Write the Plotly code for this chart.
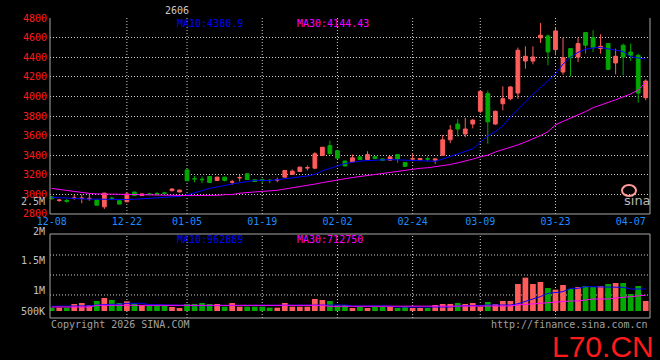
import plotly.graph_objects as go

dates = ["12-08","12-09","12-10","12-11","12-12","12-15","12-16","12-17","12-18","12-19",
         "12-22","12-23","12-24","12-25","12-26","12-29","12-30","12-31",
         "01-05","01-06","01-07","01-08","01-09","01-12","01-13","01-14","01-15","01-16",
         "01-19","01-20","01-21","01-22","01-23","01-26","01-27","01-28","01-29","01-30",
         "02-02","02-03","02-04","02-05","02-06","02-09","02-10","02-11","02-12","02-13",
         "02-24","02-25","02-26","02-27",
         "03-02","03-03","03-04","03-05","03-06","03-09","03-10","03-11","03-12","03-13",
         "03-16","03-17","03-18","03-19","03-20","03-23","03-24","03-25","03-26","03-27",
         "03-30","03-31","04-01","04-02","04-03","04-07","04-08","04-09"]

open_ = [2975,2938,2938,2960,2958,2955,2942,2873,2962,2935,
         2925,3024,2988,3005,3009,3015,3038,3025,3250,3162,
         3155,3183,3142,3176,3124,3168,3210,3149,3150,3145,
         3146,3176,3203,3234,3269,3268,3397,3498,3446,3340,
         3332,3383,3356,3385,3362,3350,3406,3326,3360,3352,
         3364,3349,3399,3557,3718,3617,3718,3848,4030,3718,
         3925,3976,4034,4361,4361,4597,4617,4477,4249,4488,
         4402,4651,4600,4488,4539,4341,4522,4453,4419,3987]
high = [2985,2952,2955,2995,3000,2995,2945,3015,2975,2940,
        3017,3026,3010,3016,3024,3027,3063,3047,3265,3188,
        3183,3186,3180,3180,3149,3200,3215,3156,3160,3157,
        3170,3248,3254,3282,3295,3431,3485,3549,3450,3345,
        3406,3388,3440,3390,3366,3390,3410,3330,3416,3372,
        3389,3365,3607,3708,3768,3781,3768,4059,4059,3855,
        4103,4106,4498,4511,4511,4750,4631,4705,4600,4492,
        4600,4655,4675,4634,4545,4488,4539,4539,4436,4174]
low = [2950,2925,2915,2945,2910,2935,2885,2850,2945,2898,
       2920,2984,2984,2990,2990,3000,3030,3020,3135,3123,
       3115,3118,3138,3132,3098,3132,3148,3128,3115,3115,
       3125,3172,3200,3230,3244,3258,3393,3410,3365,3285,
       3328,3352,3352,3360,3340,3345,3322,3280,3339,3348,
       3339,3312,3395,3523,3590,3584,3674,3831,3517,3710,
       3857,3960,3976,4283,4327,4545,4317,4419,4222,4205,
       4351,4436,4453,4436,4270,4225,4215,4361,3936,3960]
close = [2955,2942,2930,2963,2962,2959,2890,3013,2958,2901,
         3005,2988,3005,3001,3005,3011,3055,3044,3140,3158,
         3150,3122,3176,3142,3128,3172,3152,3132,3146,3141,
         3150,3244,3237,3278,3273,3414,3481,3414,3370,3290,
         3373,3356,3406,3365,3348,3383,3362,3286,3364,3366,
         3360,3362,3557,3657,3667,3667,3758,4049,3740,3848,
         3976,4096,4471,4409,4402,4624,4453,4668,4396,4396,
         4539,4522,4498,4511,4276,4409,4402,4419,4034,4157]

volume = [139000,139000,139000,292000,333000,250000,417000,542000,458000,333000,
          403000,306000,250000,222000,222000,222000,167000,125000,292000,292000,
          333000,292000,292000,181000,333000,181000,181000,181000,181000,139000,
          139000,333000,181000,181000,181000,500000,458000,417000,250000,250000,
          125000,181000,125000,181000,181000,181000,125000,181000,125000,125000,
          125000,250000,292000,292000,333000,292000,333000,181000,375000,292000,
          417000,417000,1125000,1389000,1125000,1208000,958000,889000,1083000,917000,
          1000000,1042000,1000000,1042000,1125000,1167000,1167000,708000,1042000,417000]

ma10 = [2970,2968,2962,2958,2955,2952,2950,2948,2946,2946,
        2948,2950,2955,2960,2962,2965,2970,2980,2995,3020,
        3038,3062,3076,3096,3106,3120,3130,3144,3143,3141,
        3150,3158,3164,3178,3188,3205,3240,3262,3290,3315,
        3330,3340,3345,3350,3353,3355,3352,3350,3348,3345,
        3340,3338,3360,3385,3415,3440,3466,3530,3600,3640,
        3700,3790,3870,3950,4020,4090,4160,4230,4330,4400,
        4450,4481,4495,4500,4485,4470,4458,4405,4396,4381]
ma30 = [3061,3051,3041,3027,3020,3010,3005,3003,3001,3000,
        3000,2998,2996,2994,2993,2992,2990,2990,2988,2988,
        2988,2988,2990,2997,2999,3012,3022,3025,3030,3033,
        3042,3055,3066,3079,3090,3105,3120,3135,3147,3160,
        3172,3183,3193,3203,3215,3226,3240,3250,3258,3266,
        3272,3282,3295,3305,3322,3339,3360,3383,3400,3433,
        3455,3478,3505,3535,3565,3600,3640,3710,3745,3777,
        3810,3845,3885,3910,3935,3965,3995,4025,4065,4144]

vol_ma10 = [194000,194000,200000,205000,210000,215000,250000,278000,278000,278000,
            319000,319000,319000,264000,264000,264000,264000,264000,236000,222000,
            222000,222000,222000,222000,222000,222000,222000,222000,222000,222000,
            222000,222000,222000,222000,222000,222000,222000,250000,250000,250000,
            208000,208000,208000,208000,208000,208000,167000,167000,167000,167000,
            167000,167000,167000,167000,208000,208000,208000,230000,250000,250000,
            250000,250000,300000,400000,500000,600000,736000,770000,806000,944000,
            944000,1014000,1014000,1014000,1014000,986000,986000,917000,917000,917000]
vol_ma30 = [167000,167000,167000,167000,167000,167000,236000,236000,236000,236000,
            236000,236000,236000,236000,236000,236000,236000,236000,236000,236000,
            236000,236000,236000,236000,236000,236000,236000,236000,236000,236000,
            236000,236000,236000,236000,236000,236000,236000,194000,194000,194000,
            194000,194000,194000,194000,194000,194000,194000,194000,194000,194000,
            194000,194000,194000,194000,194000,208000,208000,208000,208000,208000,
            208000,208000,250000,278000,300000,330000,361000,361000,390000,417000,
            417000,450000,500000,500000,500000,540000,583000,600000,630000,653000]

tick_dates = ["12-08","12-22","01-05","01-19","02-02","02-24","03-09","03-23","04-07"]
grid_dates = ["12-22","01-05","01-19","02-02","02-24","03-09","03-23"]
price_ticks = [2800,3000,3200,3400,3600,3800,4000,4200,4400,4600,4800]
vol_tick_labels = ["2.5M","2M","1.5M","1M","500K"]
title_text = "2606"
ma10_text = "MA10:4380.9"
ma30_text = "MA30:4144.43"
vol_ma10_text = "MA10:962889"
vol_ma30_text = "MA30:712750"

UP = "#ff5c5c"
DOWN = "#00a800"
MONO = "DejaVu Sans Mono"
GRID = "#d0d0d0"
FRAME = "#a8a8a8"

def px(x):
    return (x - 50) / 600.0

def py(y):
    return (318 - y) / 300.0

fig = go.Figure()
fig.add_trace(go.Candlestick(
    x=dates, open=open_, high=high, low=low, close=close,
    increasing=dict(line=dict(color=UP, width=1), fillcolor=UP),
    decreasing=dict(line=dict(color=DOWN, width=1), fillcolor=DOWN),
    whiskerwidth=0, xaxis="x", yaxis="y", hoverinfo="skip", showlegend=False))
fig.add_trace(go.Scatter(x=dates, y=ma10, mode="lines", line=dict(color="#0000ff", width=1),
                         xaxis="x", yaxis="y", showlegend=False, hoverinfo="skip"))
fig.add_trace(go.Scatter(x=dates, y=ma30, mode="lines", line=dict(color="#ff00ff", width=1),
                         xaxis="x", yaxis="y", showlegend=False, hoverinfo="skip"))

vol_colors = [UP if c >= o else DOWN for o, c in zip(open_, close)]
fig.add_trace(go.Bar(x=dates, y=volume, marker=dict(color=vol_colors, line=dict(width=0)),
                     width=0.76, xaxis="x2", yaxis="y2", showlegend=False, hoverinfo="skip"))
fig.add_trace(go.Scatter(x=dates, y=vol_ma10, mode="lines", line=dict(color="#0000ff", width=1),
                         xaxis="x2", yaxis="y2", showlegend=False, hoverinfo="skip"))
fig.add_trace(go.Scatter(x=dates, y=vol_ma30, mode="lines", line=dict(color="#ff00ff", width=1),
                         xaxis="x2", yaxis="y2", showlegend=False, hoverinfo="skip"))

xr = [-0.226, 79.57]
shapes = []
for yref in ["y domain", "y2 domain"]:
    shapes.append(dict(type="line", xref="x domain", yref=yref, x0=0, x1=0, y0=0, y1=1,
                       line=dict(color=FRAME, width=1)))
    shapes.append(dict(type="line", xref="x domain", yref=yref, x0=1, x1=1, y0=0, y1=1,
                       line=dict(color=FRAME, width=1)))
    shapes.append(dict(type="line", xref="x domain", yref=yref, x0=0, x1=1, y0=0, y1=0,
                       line=dict(color=FRAME, width=1)))
shapes.append(dict(type="line", xref="x domain", yref="y2 domain", x0=0, x1=1, y0=1, y1=1,
                   line=dict(color=FRAME, width=1)))
for d in grid_dates:
    for xref, yref in [("x", "y domain"), ("x2", "y2 domain")]:
        shapes.append(dict(type="line", xref=xref, yref=yref, x0=d, x1=d, y0=0, y1=1,
                           line=dict(color=GRID, width=1, dash="1px,2px"), layer="below"))
for f in [0.75, 0.512, 0.274]:
    shapes.append(dict(type="line", xref="x domain", yref="y2 domain", x0=0, x1=1, y0=f, y1=f,
                       line=dict(color=GRID, width=1, dash="1px,2px"), layer="below"))
shapes.append(dict(type="circle", xref="paper", yref="paper",
                   x0=px(622), x1=px(636), y0=py(196), y1=py(185),
                   line=dict(color="#ff9a9a", width=2)))

annotations = []
def ann(text, x, y, color, size=10, xanchor="left", family=MONO, **kw):
    annotations.append(dict(text=text, x=px(x), y=py(y), xref="paper", yref="paper",
                            xanchor=xanchor, yanchor="middle", showarrow=False,
                            font=dict(family=family, size=size, color=color), **kw))

ann(title_text, 177, 10, "#c8c8c8", xanchor="center")
ann(ma10_text, 175, 23, "#0000ff")
ann(ma30_text, 295, 23, "#ff00ff")
ann(vol_ma10_text, 175, 239, "#0000ff")
ann(vol_ma30_text, 295, 239, "#ff00ff")
for lab, yy in zip(vol_tick_labels, [201, 231, 260, 290, 311]):
    ann(lab, 47, yy, "#c0c0c0", size=10, xanchor="right")
ann("Copyright 2026 SINA.COM", 49, 324, "#a0a0a0", size=10)
ann("http://finance.sina.com.cn", 650, 324, "#a0a0a0", size=10, xanchor="right")
ann("sina", 637, 200, "#b8b8b8", size=13, xanchor="center", family="DejaVu Sans")
ann("L70.CN", 656, 346, "#ff1a1a", size=30, xanchor="right", family="Liberation Sans")

fig.update_layout(
    width=660, height=360,
    margin=dict(l=50, r=10, t=18, b=42),
    paper_bgcolor="#000000", plot_bgcolor="#000000",
    hovermode=False, showlegend=False, dragmode=False,
    boxgap=0.28, bargap=0.2,
    xaxis=dict(type="category", domain=[0, 1], anchor="y", range=xr,
               tickvals=tick_dates, ticktext=tick_dates,
               tickfont=dict(family=MONO, size=10, color="#1e8cff"),
               showgrid=False, zeroline=False, showline=False, ticks="",
               rangeslider=dict(visible=False), fixedrange=True),
    xaxis2=dict(type="category", domain=[0, 1], anchor="y2", range=xr, matches="x",
                showticklabels=False, showgrid=False, zeroline=False, showline=False,
                fixedrange=True),
    yaxis=dict(domain=[0.3467, 1], range=[2800, 4800], tickvals=price_ticks,
               tickfont=dict(family=MONO, size=10, color="#ff1a1a"),
               showgrid=True, gridcolor=GRID, gridwidth=1, griddash="1px,2px",
               zeroline=False, showline=False, ticks="", ticklabelstandoff=2,
               fixedrange=True),
    yaxis2=dict(domain=[0, 0.28], range=[-291700, 3208300], showticklabels=False,
                showgrid=False, zeroline=False, showline=False, fixedrange=True),
    shapes=shapes, annotations=annotations,
)

fig.write_html("out.html", config={"displayModeBar": False, "staticPlot": True},
               post_script="document.body.style.margin='0px';document.body.style.overflow='hidden';")
